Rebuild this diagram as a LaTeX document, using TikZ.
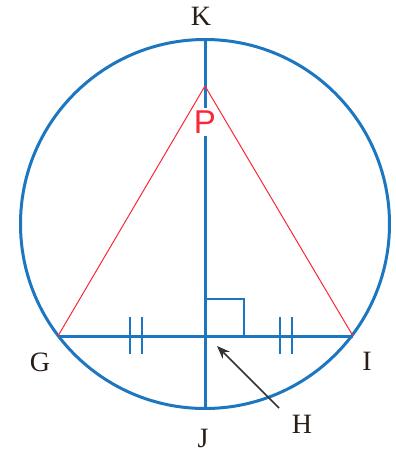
\documentclass[tikz,border=0pt]{standalone}
\usepackage{fontspec}
\setmainfont{Liberation Serif}
\newfontfamily\psans{Liberation Sans}
\usetikzlibrary{arrows.meta}
\definecolor{cblue}{RGB}{28,118,192}
\definecolor{cred}{RGB}{250,40,55}
\definecolor{ctext}{RGB}{40,30,25}
\tikzset{
  geo/.style={draw=cblue, line width=3pt},
  thin red/.style={draw=cred, line width=1pt},
  lbl/.style={text=ctext, font=\fontsize{28}{32}\selectfont, inner sep=0pt},
  tick/.style={draw=cblue, line width=2.2pt},
  pointer/.style={draw=black!80, line width=1.6pt, -{Stealth[length=13pt,width=10pt]}}
}
\begin{document}
\begin{tikzpicture}[x=1pt,y=-1pt]
\useasboundingbox (0,0) rectangle (396,459);
\coordinate (O) at (205,224);
\coordinate (Kt) at (205,40);
\coordinate (Jb) at (205,408);
\coordinate (G) at (58,336);
\coordinate (I) at (353,336);
\coordinate (H) at (205,336);
\coordinate (P) at (205,86);
% circle
\draw[geo] (O) circle (184.5);
% diameter and chord
\draw[geo] (Kt) -- (Jb);
\draw[geo] (G) -- (I);
% red triangle sides
\draw[thin red] (G) -- (P) -- (I);
% right angle
\draw[draw=cblue, line width=2pt] (205,299) -- (244,299) -- (244,336);
% ticks
\draw[tick] (130,317) -- (130,354);
\draw[tick] (142,317) -- (142,354);
\draw[tick] (280,317) -- (280,354);
\draw[tick] (292,317) -- (292,354);
% labels
\node[lbl] (lK) at (201,16) {K};
\node[lbl] (lJ) at (203,438) {J};
\node[lbl] (lG) at (40,362) {G};
\node[lbl] (lI) at (367,361) {I};
\node[lbl] (lH) at (302,424) {H};
\node[text=cred, fill=white, inner xsep=0pt, inner ysep=3pt, font=\psans\fontsize{33}{36}\selectfont] (lP) at (205,122) {P};
% arrow
\coordinate (Atail) at (279,408);
\coordinate (Atip) at (217,346);
\draw[pointer] (Atail) -- (Atip);
\end{tikzpicture}
\end{document}
